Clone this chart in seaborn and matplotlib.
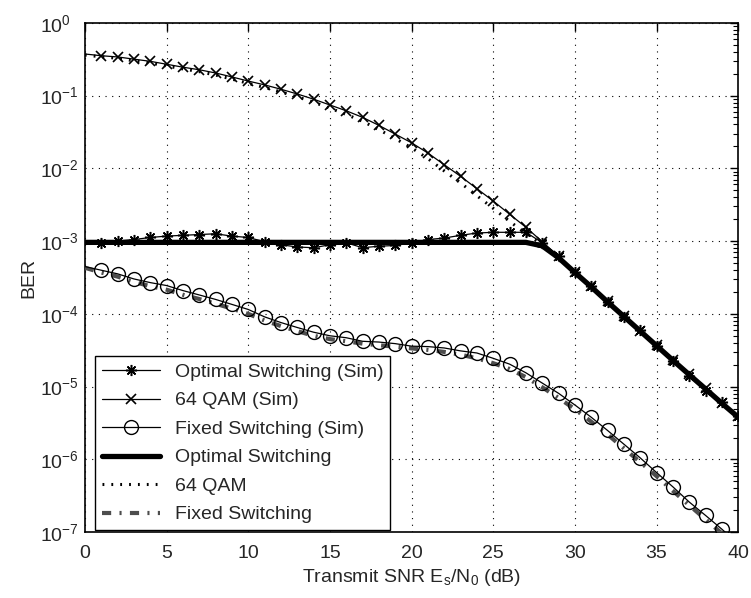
import numpy as np
import pandas as pd
import matplotlib
matplotlib.use("Agg")
import matplotlib.pyplot as plt
import seaborn as sns

snr_db = list(range(0, 41))

opt_sim = [9.5e-4, 9.5e-4, 1.0e-3, 1.05e-3, 1.12e-3, 1.17e-3, 1.20e-3, 1.23e-3, 1.26e-3, 1.17e-3,
           1.12e-3, 9.8e-4, 8.9e-4, 8.3e-4, 8.1e-4, 8.9e-4, 9.5e-4, 8.1e-4, 8.5e-4, 8.7e-4,
           9.5e-4, 1.05e-3, 1.10e-3, 1.20e-3, 1.29e-3, 1.32e-3, 1.32e-3, 1.32e-3, 9.5e-4, 6.2e-4,
           3.8e-4, 2.45e-4, 1.45e-4, 9.1e-5, 6.0e-5, 3.6e-5, 2.24e-5, 1.38e-5, 8.7e-6, 6.2e-6, 3.9e-6]

qam_sim = [0.372, 0.352, 0.339, 0.316, 0.295, 0.269, 0.245, 0.226, 0.204, 0.180,
           0.158, 0.140, 0.122, 0.105, 0.0891, 0.0741, 0.0617, 0.0501, 0.0389, 0.0295,
           0.0224, 0.0162, 0.0112, 7.76e-3, 5.25e-3, 3.55e-3, 2.34e-3, 1.55e-3, 9.8e-4, 6.2e-4,
           3.8e-4, 2.4e-4, 1.48e-4, 9.3e-5, 5.9e-5, 3.7e-5, 2.34e-5, 1.48e-5, 9.5e-6, 6.0e-6, 3.9e-6]

fixed_sim = [4.47e-4, 3.98e-4, 3.55e-4, 3.02e-4, 2.69e-4, 2.45e-4, 2.09e-4, 1.82e-4, 1.58e-4, 1.35e-4,
             1.15e-4, 9.1e-5, 7.6e-5, 6.5e-5, 5.6e-5, 5.0e-5, 4.7e-5, 4.2e-5, 4.1e-5, 3.9e-5,
             3.6e-5, 3.55e-5, 3.4e-5, 3.1e-5, 2.9e-5, 2.45e-5, 2.04e-5, 1.55e-5, 1.12e-5, 8.1e-6,
             5.6e-6, 3.8e-6, 2.5e-6, 1.62e-6, 1.05e-6, 6.6e-7, 4.2e-7, 2.6e-7, 1.7e-7, 1.1e-7, 6.9e-8]

opt_theory = [9.6e-4] * 28 + [8.6e-4, 5.9e-4, 3.7e-4, 2.35e-4, 1.46e-4, 9.2e-5, 5.8e-5, 3.65e-5,
                              2.3e-5, 1.46e-5, 9.3e-6, 5.9e-6, 3.8e-6]

qam_theory = [0.36, 0.34, 0.325, 0.30, 0.28, 0.255, 0.232, 0.213, 0.191, 0.168,
              0.147, 0.129, 0.112, 0.096, 0.081, 0.067, 0.055, 0.0443, 0.0340, 0.0256,
              0.0191, 0.0136, 0.0092, 6.3e-3, 4.2e-3, 2.82e-3, 1.87e-3, 1.27e-3, 8.9e-4, 5.9e-4,
              3.7e-4, 2.35e-4, 1.46e-4, 9.2e-5, 5.8e-5, 3.65e-5, 2.3e-5, 1.46e-5, 9.3e-6, 5.9e-6, 3.8e-6]

fixed_theory = [4.3e-4, 3.7e-4, 3.25e-4, 2.75e-4, 2.4e-4, 2.15e-4, 1.83e-4, 1.6e-4, 1.38e-4, 1.18e-4,
                1.0e-4, 8.1e-5, 6.8e-5, 5.8e-5, 5.0e-5, 4.5e-5, 4.2e-5, 3.9e-5, 3.7e-5, 3.55e-5,
                3.35e-5, 3.2e-5, 3.0e-5, 2.75e-5, 2.45e-5, 2.1e-5, 1.75e-5, 1.35e-5, 9.8e-6, 7.0e-6,
                4.9e-6, 3.3e-6, 2.2e-6, 1.42e-6, 9.2e-7, 5.9e-7, 3.7e-7, 2.35e-7, 1.5e-7, 9.6e-8, 6.1e-8]

labels = ["Optimal Switching (Sim)", "64 QAM (Sim)", "Fixed Switching (Sim)",
          "Optimal Switching", "64 QAM", "Fixed Switching"]
x_ticks = [0, 5, 10, 15, 20, 25, 30, 35, 40]

sns.set_style("white")
plt.rcParams['font.family'] = ['Liberation Sans', 'DejaVu Sans']
plt.rcParams['mathtext.fontset'] = 'custom'
plt.rcParams['mathtext.rm'] = 'Liberation Sans'
plt.rcParams['mathtext.it'] = 'Liberation Sans:italic'
plt.rcParams['mathtext.default'] = 'regular'

fig = plt.figure(figsize=(7.51, 5.98), dpi=100)
ax = fig.add_axes([0.113, 0.110, 0.983 - 0.113, 0.962 - 0.110])

df = pd.DataFrame({"snr": snr_db, "opt_sim": opt_sim, "qam_sim": qam_sim, "fixed_sim": fixed_sim,
                   "opt_th": opt_theory, "qam_th": qam_theory, "fixed_th": fixed_theory})

mk = slice(1, None)
sns.lineplot(data=df, x="snr", y="opt_sim", ax=ax, color="black", lw=0.9,
             marker=(8, 2, 0), markersize=8, markeredgewidth=1.1, markeredgecolor="black",
             markevery=mk, label=labels[0], zorder=5)
sns.lineplot(data=df, x="snr", y="qam_sim", ax=ax, color="black", lw=0.9,
             marker="x", markersize=7, markeredgewidth=1.2, markeredgecolor="black",
             markevery=mk, label=labels[1], zorder=5)
sns.lineplot(data=df, x="snr", y="fixed_sim", ax=ax, color="black", lw=0.9,
             marker="o", markersize=10, markerfacecolor="none", markeredgecolor="black",
             markeredgewidth=1.0, markevery=mk, label=labels[2], zorder=5)
sns.lineplot(data=df, x="snr", y="opt_th", ax=ax, color="black", lw=3.8,
             label=labels[3], zorder=4)
sns.lineplot(data=df, x="snr", y="qam_th", ax=ax, color="black", lw=2.2,
             label=labels[4], zorder=4)
sns.lineplot(data=df, x="snr", y="fixed_th", ax=ax, color="0.3", lw=3.0,
             label=labels[5], zorder=4)

lines = ax.get_lines()
lines[4].set_dashes((0.6, 2.3))
lines[5].set_dashes((2.2, 2.0, 0.5, 2.0))

ax.set_yscale("log")
ax.set_xlim(0, 40)
ax.set_ylim(1e-7, 1)
ax.set_xticks(x_ticks)
ax.set_xticklabels([str(t) for t in x_ticks])
ax.set_yticks([10.0 ** k for k in range(-7, 1)])

ax.grid(True, which="major", color="black", linestyle=(0, (1, 5)), lw=0.8)
ax.tick_params(which="both", direction="in", top=True, right=True, labelsize=14, color="black")
ax.tick_params(which="major", length=6, width=1)
ax.tick_params(which="minor", length=3.5, width=0.8)
ax.tick_params(axis="x", pad=9)
ax.tick_params(axis="y", pad=32)
for lab in ax.get_yticklabels():
    lab.set_horizontalalignment("left")
for s in ax.spines.values():
    s.set_color("black")
    s.set_linewidth(1.2)

ax.set_xlabel(r"Transmit SNR E$_\mathrm{s}$/N$_\mathrm{0}$ (dB)", fontsize=14, labelpad=4)
ax.set_ylabel("BER", fontsize=14)
ax.yaxis.set_label_coords(-0.072, 0.5)

leg = ax.legend(loc="lower left", bbox_to_anchor=(10 / 653, 2 / 509), borderaxespad=0,
                fontsize=14, frameon=True, fancybox=False, edgecolor="black",
                handlelength=3.0, handletextpad=0.75, labelspacing=0.56, borderpad=0.35)
leg.get_frame().set_linewidth(1.0)
leg.get_frame().set_alpha(1)

fig.savefig("out.png", dpi=100)
